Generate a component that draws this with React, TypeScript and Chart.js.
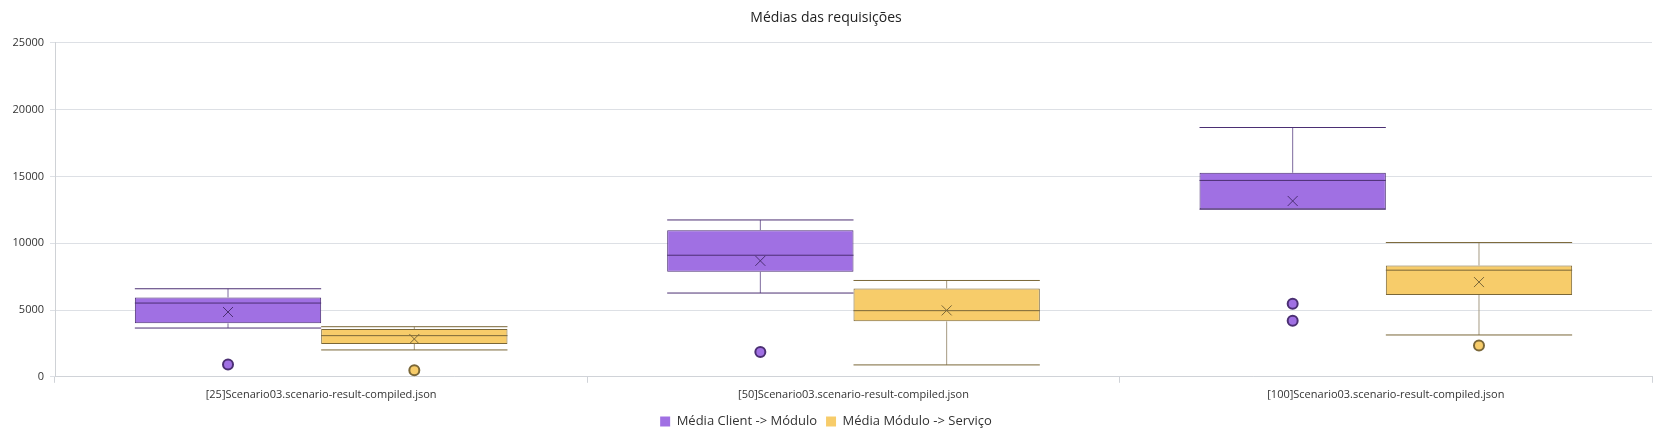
import React, { useEffect, useRef } from "react";
import { Chart, registerables } from "chart.js";

Chart.register(...registerables);

const categories = [
  "[25]Scenario03.scenario-result-compiled.json",
  "[50]Scenario03.scenario-result-compiled.json",
  "[100]Scenario03.scenario-result-compiled.json",
];
const seriesNames = ["Média Client -> Módulo", "Média Módulo -> Serviço"];

const clientMin = [3650, 6270, 12540];
const clientQ1 = [4000, 7860, 12540];
const clientMedian = [5520, 9100, 14700];
const clientQ3 = [5940, 10970, 15270];
const clientMax = [6590, 11740, 18660];
const clientMean = [4850, 8680, 13160];
const clientOutliers = [[920], [1865], [5470, 4200]];

const serviceMin = [2010, 890, 3130];
const serviceQ1 = [2460, 4150, 6120];
const serviceMedian = [3080, 4950, 7980];
const serviceQ3 = [3580, 6610, 8330];
const serviceMax = [3750, 7210, 10050];
const serviceMean = [2830, 4970, 7090];
const serviceOutliers = [[490], [], [2340]];

const yTicks = [0, 5000, 10000, 15000, 20000, 25000];

const FONT = "'Open Sans', 'Noto Sans', sans-serif";

const stats = [
  {
    min: clientMin, q1: clientQ1, median: clientMedian, q3: clientQ3, max: clientMax,
    mean: clientMean, outliers: clientOutliers,
    fill: "#a070e3", line: "#4b2f73", whisker: "#7d6a9e",
  },
  {
    min: serviceMin, q1: serviceQ1, median: serviceMedian, q3: serviceQ3, max: serviceMax,
    mean: serviceMean, outliers: serviceOutliers,
    fill: "#f7cc6a", line: "#7a6738", whisker: "#a59a82",
  },
];

const boxPlotPlugin = {
  id: "boxPlotExtras",
  afterDatasetsDraw(chart: any) {
    const ctx = chart.ctx;
    const y = chart.scales.y;
    chart.data.datasets.forEach((ds: any, di: number) => {
      const s = stats[di];
      const meta = chart.getDatasetMeta(di);
      meta.data.forEach((bar: any, i: number) => {
        const cx = bar.x;
        const half = bar.width / 2;
        const left = cx - half;
        const right = cx + half;
        const pMin = y.getPixelForValue(s.min[i]);
        const pMax = y.getPixelForValue(s.max[i]);
        const pQ1 = y.getPixelForValue(s.q1[i]);
        const pQ3 = y.getPixelForValue(s.q3[i]);
        const pMed = y.getPixelForValue(s.median[i]);
        const pMean = y.getPixelForValue(s.mean[i]);
        ctx.save();
        ctx.strokeStyle = s.whisker;
        ctx.lineWidth = 1;
        ctx.beginPath();
        ctx.moveTo(cx, pQ3);
        ctx.lineTo(cx, pMax);
        ctx.moveTo(cx, pQ1);
        ctx.lineTo(cx, pMin);
        ctx.stroke();
        ctx.strokeStyle = s.line;
        ctx.beginPath();
        ctx.moveTo(left, pMax);
        ctx.lineTo(right, pMax);
        ctx.moveTo(left, pMin);
        ctx.lineTo(right, pMin);
        ctx.stroke();
        ctx.beginPath();
        ctx.moveTo(left, pMed);
        ctx.lineTo(right, pMed);
        ctx.stroke();
        const m = 5;
        ctx.beginPath();
        ctx.moveTo(cx - m, pMean - m);
        ctx.lineTo(cx + m, pMean + m);
        ctx.moveTo(cx + m, pMean - m);
        ctx.lineTo(cx - m, pMean + m);
        ctx.stroke();
        s.outliers[i].forEach((v: number) => {
          const py = y.getPixelForValue(v);
          ctx.beginPath();
          ctx.arc(cx, py, 5, 0, Math.PI * 2);
          ctx.fillStyle = s.fill;
          ctx.fill();
          ctx.lineWidth = 2;
          ctx.strokeStyle = s.line;
          ctx.stroke();
        });
        ctx.restore();
      });
    });
  },
};

export default function App() {
  const ref = useRef<HTMLCanvasElement | null>(null);

  useEffect(() => {
    if (!ref.current) return;
    const chart = new Chart(ref.current, {
      type: "bar",
      data: {
        labels: categories,
        datasets: stats.map((s, di) => ({
          label: seriesNames[di],
          data: s.q1.map((q1, i) => [q1, s.q3[i]]),
          backgroundColor: s.fill,
          borderColor: s.line,
          borderWidth: 1,
          borderSkipped: false,
          categoryPercentage: 0.7,
          barPercentage: 1.0,
        })) as any,
      },
      options: {
        animation: false,
        responsive: false,
        maintainAspectRatio: false,
        layout: { padding: { left: 0, right: 13, top: 0, bottom: 0 } },
        plugins: {
          title: {
            display: true,
            text: "Médias das requisições",
            color: "#222222",
            font: { family: FONT, size: 14, weight: "normal" },
            padding: { top: 10, bottom: 16 },
          },
          legend: {
            position: "bottom",
            labels: {
              color: "#333333",
              font: { family: FONT, size: 13 },
              boxWidth: 10,
              boxHeight: 10,
              padding: 9,
              generateLabels: (c: any) =>
                c.data.datasets.map((ds: any, i: number) => ({
                  text: ds.label,
                  fillStyle: stats[i].fill,
                  strokeStyle: stats[i].fill,
                  lineWidth: 0,
                  datasetIndex: i,
                  fontColor: "#333333",
                })),
            },
          },
          tooltip: { enabled: false },
        },
        scales: {
          x: {
            offset: true,
            grid: {
              offset: true,
              drawOnChartArea: false,
              drawTicks: true,
              tickLength: 6,
              color: "#d0d3d8",
            },
            border: { color: "#d0d3d8" },
            ticks: {
              color: "#333333",
              font: { family: FONT, size: 11 },
              padding: 5,
              maxRotation: 0,
            },
          },
          y: {
            min: 0,
            max: 25000,
            afterBuildTicks: (scale: any) => {
              scale.ticks = yTicks.map((v) => ({ value: v }));
            },
            afterFit: (scale: any) => {
              scale.width = 55;
            },
            grid: {
              color: "#dde0e5",
              tickLength: 5,
            },
            border: { color: "#cfd2d6" },
            ticks: {
              color: "#333333",
              font: { family: FONT, size: 11 },
              padding: 6,
              callback: (v: any) => String(v),
            },
          },
        },
      },
      plugins: [boxPlotPlugin],
    });
    return () => chart.destroy();
  }, []);

  return (
    <div style={{ position: "fixed", left: 0, top: 0, width: "1665px", height: "438px", background: "#fff" }}>
      <canvas ref={ref} width={1665} height={438} style={{ display: "block" }} />
    </div>
  );
}
